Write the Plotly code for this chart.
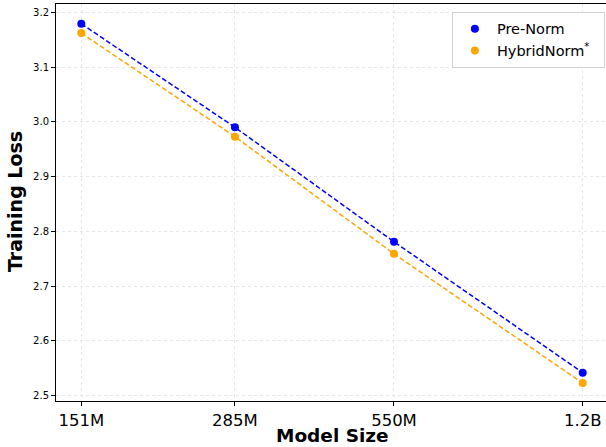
import plotly.graph_objects as go
import numpy as np

model_sizes = [151e6, 285e6, 550e6, 1.2e9]
size_labels = ["151M", "285M", "550M", "1.2B"]
pre_norm = [3.179, 2.990, 2.781, 2.542]
hybrid_norm = [3.162, 2.973, 2.759, 2.523]
y_ticks = [2.5, 2.6, 2.7, 2.8, 2.9, 3.0, 3.1, 3.2]

BLUE = "#0000ff"
ORANGE = "#ffa500"
series = [("Pre-Norm", pre_norm, BLUE), ("HybridNorm<sup>*</sup>&nbsp;&nbsp;", hybrid_norm, ORANGE)]

fig = go.Figure()
for name, vals, col in series:
    fig.add_trace(go.Scatter(x=model_sizes, y=vals, mode="lines",
                             line=dict(color=col, width=1.5, dash="5px,2.5px"),
                             showlegend=False, hoverinfo="skip"))
for name, vals, col in series:
    fig.add_trace(go.Scatter(x=model_sizes, y=vals, mode="markers", name=name,
                             marker=dict(color=col, size=8)))

font = "DejaVu Sans"
px_per_dec = 557.0
x_left = np.log10(151e6) - (81.3 - 56) / px_per_dec
x_right = x_left + (606 - 56) / px_per_dec
px_per_unit = 547.7
y_bottom = 2.5 - (401 - 395.7) / px_per_unit
y_top = 3.2 + (12.3 - 4) / px_per_unit

PW, PH = 550.0, 397.0

fig.update_layout(
    width=606, height=447,
    margin=dict(l=56, r=0, t=4, b=46),
    paper_bgcolor="white", plot_bgcolor="white",
    font=dict(family=font, color="black"),
    legend=dict(x=0.998, y=(401 - 11.7) / PH, xanchor="right", yanchor="top",
                bgcolor="white", bordercolor="#d0d0d0", borderwidth=1,
                font=dict(size=14.5, family=font), itemwidth=34,
                tracegroupgap=2),
    xaxis=dict(type="log", range=[x_left, x_right],
               tickvals=model_sizes, ticktext=size_labels,
               tickfont=dict(size=16.5, family=font),
               ticks="outside", ticklen=4, tickcolor="black",
               showline=True, linecolor="black", linewidth=1, mirror=True,
               showgrid=True, gridcolor="#e8e8e8", griddash="dot", gridwidth=1,
               zeroline=False),
    yaxis=dict(range=[y_bottom, y_top], tickvals=y_ticks,
               ticktext=[f"{v:.1f}" for v in y_ticks],
               tickfont=dict(size=10, family=font),
               ticks="outside", ticklen=4, tickcolor="black",
               showline=True, linecolor="black", linewidth=1,
               showgrid=True, gridcolor="#e8e8e8", griddash="dot", gridwidth=1,
               zeroline=False),
    annotations=[
        dict(text="<b>Model Size</b>", xref="paper", yref="paper",
             x=(332 - 56) / PW, y=(401 - 446) / PH, xanchor="center", yanchor="bottom",
             height=19, valign="middle", borderpad=0,
             showarrow=False, font=dict(size=18.5, family=font, color="black")),
        dict(text="<b>Training Loss</b>", xref="paper", yref="paper",
             x=(15 - 56) / PW, y=(401 - 202) / PH, xanchor="center", yanchor="middle",
             textangle=-90, showarrow=False, font=dict(size=19, family=font, color="black")),
    ],
)

fig.write_html("out.html", config={"displayModeBar": False},
               post_script="document.body.style.margin='0';document.body.style.overflow='hidden';")
